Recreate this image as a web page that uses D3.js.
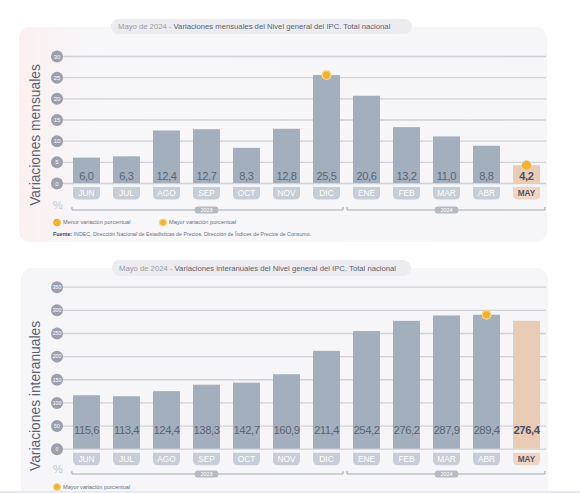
<!DOCTYPE html>
<html><head><meta charset="utf-8">
<script src="https://cdn.jsdelivr.net/npm/d3@7"></script>
<style>
html,body{margin:0;padding:0;background:#fff;}
svg{display:block;font-family:"Liberation Sans",Arial,sans-serif;}
</style></head>
<body>
<svg id="c" width="580" height="493"></svg>
<script>
const months = ["JUN","JUL","AGO","SEP","OCT","NOV","DIC","ENE","FEB","MAR","ABR","MAY"];
const years = [{label:"2023", from:"JUN", to:"DIC"},{label:"2024", from:"ENE", to:"MAY"}];
const monthlyValues = [6.0,6.3,12.4,12.7,8.3,12.8,25.5,20.6,13.2,11.0,8.8,4.2];
const annualValues = [115.6,113.4,124.4,138.3,142.7,160.9,211.4,254.2,276.2,287.9,289.4,276.4];
const monthlyTicks = [0,5,10,15,20,25,30];
const annualTicks = [0,50,100,150,200,250,300,350];
const monthlyTitle = ["Mayo de 2024 - ","Variaciones mensuales del Nivel general del IPC. Total nacional"];
const annualTitle = ["Mayo de 2024 - ","Variaciones interanuales del Nivel general del IPC. Total nacional"];
const monthlyAxisTitle = "Variaciones mensuales";
const annualAxisTitle = "Variaciones interanuales";
const legendMin = "Menor variación porcentual";
const legendMax = "Mayor variación porcentual";
const sourceBold = "Fuente:";
const sourceText = " INDEC, Dirección Nacional de Estadísticas de Precios. Dirección de Índices de Precios de Consumo.";

const svg = d3.select("#c");
const defs = svg.append("defs");
const grad = defs.append("linearGradient").attr("id","pg").attr("x1","0").attr("x2","1").attr("y1","0").attr("y2","0");
grad.append("stop").attr("offset","0").attr("stop-color","#fbf0f0");
grad.append("stop").attr("offset","0.12").attr("stop-color","#f7f6f9");
grad.append("stop").attr("offset","1").attr("stop-color","#f6f6f9");

const BAR = "#a4afbd", PEACH = "#e9ccb6", PILL = "#c8ced8", PILLP = "#efd6c4", ORANGE = "#f2b22a";
const fmt = v => d3.format(".1f")(v).replace(".", ",");

const x = d3.scaleBand().domain(months).range([66.5, 546.5]).paddingInner(0.325).paddingOuter(0.1625);

function pillPath(x0, y0, w, h, r) {
  return `M${x0},${y0}H${x0+w}V${y0+h-r}Q${x0+w},${y0+h} ${x0+w-r},${y0+h}H${x0+r}Q${x0},${y0+h} ${x0},${y0+h-r}Z`;
}

function drawChart(cfg) {
  const g = svg.append("g");
  g.append("rect").attr("x",cfg.panel[0]).attr("y",cfg.panel[1]).attr("width",cfg.panel[2]).attr("height",cfg.panel[3])
    .attr("rx",11).attr("fill",cfg.grad ? "url(#pg)" : "#f6f6f8");
  g.append("rect").attr("x",cfg.titleBox[0]).attr("y",cfg.titleBox[1]).attr("width",cfg.titleBox[2]).attr("height",cfg.titleBox[3])
    .attr("rx",cfg.titleBox[3]/2).attr("fill","#ebebf0");
  const tt = g.append("text").attr("x",cfg.titleBox[0]+7).attr("y",cfg.titleBox[1]+cfg.titleBox[3]/2).attr("dy","0.35em")
    .attr("font-size",7.7).attr("fill","#5e6472");
  tt.append("tspan").attr("fill","#9a9ea8").text(cfg.title[0]);
  tt.append("tspan").text(cfg.title[1]);

  const y = d3.scaleLinear().domain([0, cfg.ticks[cfg.ticks.length-1]]).range([cfg.y0, cfg.yTop]);

  const ax = g.append("g").attr("transform","translate(57,0)")
    .call(d3.axisLeft(y).tickValues(cfg.ticks).tickSize(-489).tickPadding(0));
  ax.select(".domain").remove();
  ax.selectAll(".tick line").attr("stroke","#cfd2d9").attr("stroke-width",1.3);
  ax.selectAll(".tick").insert("circle","text").attr("r",6).attr("fill","#9ca0ae");
  ax.selectAll(".tick text").attr("x",0).attr("dy","0.34em").attr("text-anchor","middle")
    .attr("font-size", cfg.ticks[cfg.ticks.length-1] > 99 ? 5.2 : 6).attr("fill","#fff").attr("font-family","Liberation Sans, Arial, sans-serif");

  g.append("text").attr("transform",`translate(35,${cfg.axisTitleY}) rotate(-90)`).attr("text-anchor","middle")
    .attr("dominant-baseline","central").attr("font-size",13.8).attr("fill","#5c6170").text(cfg.axisTitle);

  g.selectAll(".bar").data(cfg.values).join("rect")
    .attr("x",(d,i)=>x(months[i])).attr("width",x.bandwidth())
    .attr("y",d=>y(d)).attr("height",d=>y(0)-y(d))
    .attr("fill",(d,i)=> i===months.length-1 ? PEACH : BAR);

  g.selectAll(".val").data(cfg.values).join("text")
    .attr("x",(d,i)=>x(months[i])+x.bandwidth()/2).attr("y",cfg.labelY).attr("dy","0.35em")
    .attr("text-anchor","middle").attr("font-size",cfg.labelSize).attr("letter-spacing",cfg.labelSpacing)
    .attr("font-weight",(d,i)=> i===months.length-1 ? "bold" : "normal")
    .attr("fill",(d,i)=> i===months.length-1 ? "#4b5063" : "#5a6577").text(d=>fmt(d));

  const pillTop = cfg.y0 + 4;
  g.selectAll(".pill").data(months).join("path")
    .attr("d",m=>pillPath(x(m), pillTop, x.bandwidth(), 12.5, 5))
    .attr("fill",(m,i)=> i===months.length-1 ? PILLP : PILL);
  g.selectAll(".ml").data(months).join("text")
    .attr("x",m=>x(m)+x.bandwidth()/2).attr("y",pillTop+6.3).attr("dy","0.36em").attr("text-anchor","middle")
    .attr("font-size",8.3).attr("font-weight",(m,i)=> i===months.length-1 ? "bold" : "normal")
    .attr("fill",(m,i)=> i===months.length-1 ? "#5b5560" : "#fff").text(m=>m);

  g.append("text").attr("x",58).attr("y",cfg.bracketY-1).attr("text-anchor","middle").attr("font-size",11)
    .attr("fill","#c5c8d0").text("%");

  years.forEach((yr, k) => {
    const a = x(yr.from) - (k===0 ? 1 : 6), b = x(yr.to) + x.bandwidth() + (k===0 ? 3 : 5);
    g.append("path").attr("d",`M${a},${cfg.bracketY-3}V${cfg.bracketY}H${b}V${cfg.bracketY-3}`)
      .attr("fill","none").attr("stroke","#a2a7b0").attr("stroke-width",1);
    const cx = (x(yr.from) + x(yr.to) + x.bandwidth())/2;
    g.append("rect").attr("x",cx-12).attr("y",cfg.bracketY-3.5).attr("width",24).attr("height",7).attr("rx",3.5).attr("fill","#b5bac3");
    g.append("text").attr("x",cx).attr("y",cfg.bracketY).attr("dy","0.35em").attr("text-anchor","middle")
      .attr("font-size",5.5).attr("fill","#fff").text(yr.label);
  });

  cfg.markers.forEach(mk => {
    const cx = x(months[mk.i]) + x.bandwidth()/2, cy = y(cfg.values[mk.i]);
    if (mk.type === "max") g.append("circle").attr("cx",cx).attr("cy",cy).attr("r",5).attr("fill","#f7d58a");
    g.append("circle").attr("cx",cx).attr("cy",cy).attr("r",mk.type==="max"?3.6:4.6).attr("fill",ORANGE);
  });

  cfg.legend.forEach(lg => {
    if (lg.type === "max") g.append("circle").attr("cx",lg.x).attr("cy",lg.y).attr("r",4).attr("fill","#f7d58a");
    g.append("circle").attr("cx",lg.x).attr("cy",lg.y).attr("r",lg.type==="max"?2.8:3.8).attr("fill",ORANGE);
    g.append("text").attr("x",lg.x+6).attr("y",lg.y).attr("dy","0.35em").attr("font-size",5.6).attr("fill","#6a6f7c").text(lg.text);
  });
  if (cfg.source) {
    const st = g.append("text").attr("x",53).attr("y",cfg.source).attr("dy","0.35em").attr("font-size",5.3).attr("fill","#6a6f7c");
    st.append("tspan").attr("font-weight","bold").attr("fill","#3d4a63").text(sourceBold);
    st.append("tspan").text(sourceText);
  }
}

drawChart({
  panel:[19,27,528,215], grad:true, titleBox:[111,19,301,15], title:monthlyTitle,
  ticks:monthlyTicks, y0:183, yTop:56, values:monthlyValues, axisTitle:monthlyAxisTitle, axisTitleY:135,
  labelY:176, labelSize:11, labelSpacing:-0.3, bracketY:210, markers:[{i:6,type:"max"},{i:11,type:"min"}],
  legend:[{x:57,y:222.5,type:"min",text:legendMin},{x:163,y:222.5,type:"max",text:legendMax}], source:234
});
drawChart({
  panel:[21,268,527,240], grad:false, titleBox:[112,260,299,16], title:annualTitle,
  ticks:annualTicks, y0:448.7, yTop:286.7, values:annualValues, axisTitle:annualAxisTitle, axisTitleY:396,
  labelY:430, labelSize:11.3, labelSpacing:-0.45, bracketY:474, markers:[{i:10,type:"max"}],
  legend:[{x:57,y:487,type:"max",text:legendMax}], source:null
});
svg.append("rect").attr("x",0).attr("y",491).attr("width",580).attr("height",2).attr("fill","#e2ebf2");
</script>
</body></html>
